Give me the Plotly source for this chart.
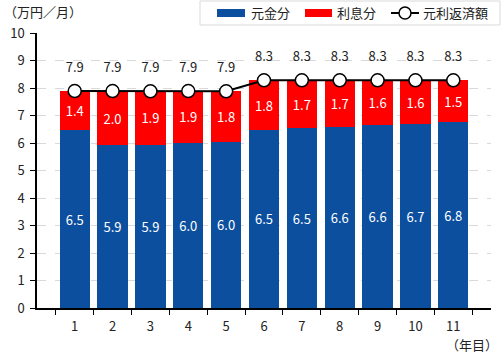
import plotly.graph_objects as go

years = ["1", "2", "3", "4", "5", "6", "7", "8", "9", "10", "11"]
principal = [6.47, 5.91, 5.94, 6.01, 6.04, 6.48, 6.54, 6.59, 6.64, 6.69, 6.76]
interest = [1.42, 1.98, 1.94, 1.88, 1.84, 1.80, 1.74, 1.69, 1.64, 1.59, 1.52]
total = [round(p + i, 2) for p, i in zip(principal, interest)]
series_names = ["元金分", "利息分", "元利返済額"]

FONT = "Noto Sans CJK JP, Noto Sans, sans-serif"
BLUE = "#0C4F9E"
RED = "#FF0000"

# plot area in pixels: x 37..491, y 33..308
L, R, T, B = 37, 491, 33, 308
def px(x):
    return (x - L) / (R - L)
def py(y):
    return (B - y) / (B - T)

fig = go.Figure()
fig.add_trace(go.Bar(
    x=years, y=principal, name=series_names[0], showlegend=False,
    marker=dict(color=BLUE, line=dict(width=0)),
    texttemplate="%{y:.1f}", textposition="inside", insidetextanchor="middle",
    textfont=dict(color="white", size=13, family=FONT), textangle=0,
))
fig.add_trace(go.Bar(
    x=years, y=interest, name=series_names[1], showlegend=False,
    marker=dict(color=RED, line=dict(width=0)),
    texttemplate="%{y:.1f}", textposition="inside", insidetextanchor="middle",
    textfont=dict(color="white", size=13, family=FONT), textangle=0,
))
fig.add_trace(go.Scatter(
    x=years, y=total, name=series_names[2], mode="lines+markers", showlegend=False,
    line=dict(color="black", width=2),
    marker=dict(size=13, color="white", line=dict(color="black", width=1.5)),
))
fig.add_trace(go.Scatter(
    x=years, y=total, mode="markers+text", showlegend=False, hoverinfo="skip",
    marker=dict(size=24, color="rgba(0,0,0,0)"),
    texttemplate="%{y:.1f}", textposition="top center",
    textfont=dict(color="#222222", size=13, family=FONT),
))

shapes = [
    dict(type="rect", xref="paper", yref="paper", x0=px(200), x1=px(500),
         y0=py(25), y1=py(1), line=dict(color="#d9d9d9", width=1), fillcolor="white",
         layer="above"),
    dict(type="rect", xref="paper", yref="paper", x0=px(217), x1=px(245),
         y0=py(17), y1=py(9), line=dict(width=0), fillcolor=BLUE, layer="above"),
    dict(type="rect", xref="paper", yref="paper", x0=px(305), x1=px(332),
         y0=py(17), y1=py(9), line=dict(width=0), fillcolor=RED, layer="above"),
    dict(type="line", xref="paper", yref="paper", x0=px(391), x1=px(419),
         y0=py(13), y1=py(13), line=dict(color="black", width=2), layer="above"),
    dict(type="circle", xref="paper", yref="paper", xsizemode="pixel", ysizemode="pixel",
         xanchor=px(405), yanchor=py(13), x0=-6, x1=6, y0=-6, y1=6,
         line=dict(color="black", width=1.5), fillcolor="white", layer="above"),
]

annotations = [
    dict(text="（万円／月）", xref="paper", yref="paper", x=px(2), y=py(12),
         xanchor="left", yanchor="middle", showarrow=False, font=dict(size=13)),
    dict(text="（年目）", xref="paper", yref="paper", x=px(500), y=py(344),
         xanchor="right", yanchor="middle", showarrow=False, font=dict(size=13)),
    dict(text=series_names[0], xref="paper", yref="paper", x=px(249), y=py(13),
         xanchor="left", yanchor="middle", showarrow=False, font=dict(size=13)),
    dict(text=series_names[1], xref="paper", yref="paper", x=px(335), y=py(13),
         xanchor="left", yanchor="middle", showarrow=False, font=dict(size=13)),
    dict(text=series_names[2], xref="paper", yref="paper", x=px(421), y=py(13),
         xanchor="left", yanchor="middle", showarrow=False, font=dict(size=13)),
]

fig.update_layout(
    width=502, height=355,
    margin=dict(l=L, r=502 - R, t=T, b=355 - B),
    barmode="stack", bargap=0.2,
    plot_bgcolor="white", paper_bgcolor="white",
    font=dict(family=FONT, size=12, color="#222222"),
    uniformtext=dict(minsize=8, mode="show"),
    showlegend=False,
    xaxis=dict(
        type="category", showline=True, linecolor="black", linewidth=1.5,
        ticks="outside", tickson="boundaries", ticklen=5, tickcolor="black",
        tickfont=dict(size=13), showgrid=False, ticklabelstandoff=6,
    ),
    yaxis=dict(
        range=[0, 10], dtick=1, showline=True, linecolor="black", linewidth=1.5,
        ticks="outside", ticklen=5, tickcolor="black", tickfont=dict(size=13),
        showgrid=True, gridcolor="#d9d9d9", griddash="dash", gridwidth=1,
        zeroline=False, ticklabelstandoff=3,
    ),
    shapes=shapes,
    annotations=annotations,
)

fig.write_html("out.html", config={"displayModeBar": False},
               post_script="document.body.style.margin='0';")
